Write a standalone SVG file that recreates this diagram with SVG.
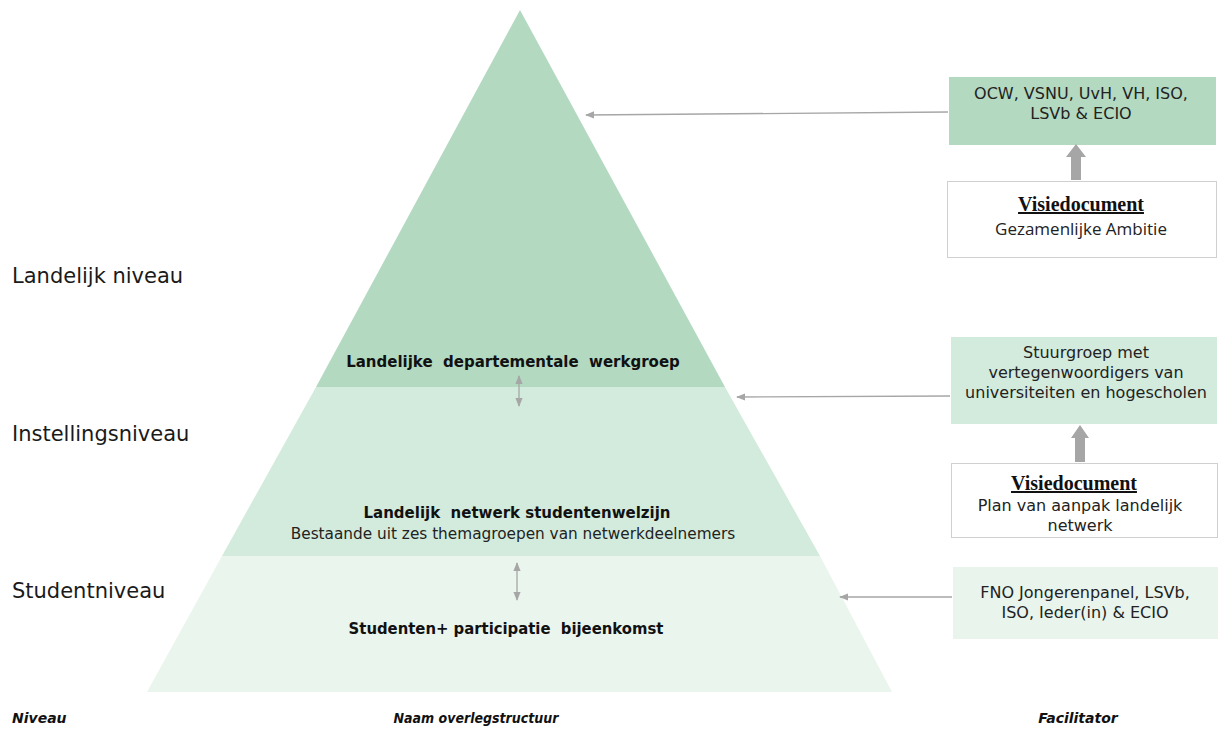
<svg xmlns="http://www.w3.org/2000/svg" width="1218" height="733" viewBox="0 0 1218 733">
<defs>
<style>
.lvl{font-family:"DejaVu Sans",Verdana,sans-serif;font-size:21px;fill:#1a1a1a}
.hdr{font-family:"DejaVu Sans",Verdana,sans-serif;font-size:14px;font-weight:bold;font-style:italic;fill:#111}
.pb{font-family:"DejaVu Sans",Verdana,sans-serif;font-size:15px;font-weight:bold;fill:#111;text-anchor:middle}
.pr{font-family:"DejaVu Sans",Verdana,sans-serif;font-size:15.3px;fill:#222;text-anchor:middle}
.pc{font-family:"DejaVu Sans",Verdana,sans-serif;font-size:16.5px;font-weight:bold;font-stretch:condensed;fill:#111;text-anchor:middle}
.bt{font-family:"DejaVu Sans",Verdana,sans-serif;font-size:16px;fill:#222;text-anchor:middle}
.ga{font-family:"Open Sans","DejaVu Sans",sans-serif;font-size:17px;fill:#222;text-anchor:middle}
.vd{font-family:"Liberation Serif","Times New Roman",serif;font-size:20px;font-weight:bold;fill:#111;text-anchor:middle;text-decoration:underline}
.conn{stroke:#a6a6a6;stroke-width:1.3;fill:none}
.wbox{fill:#ffffff;stroke:#d0d0d0;stroke-width:1}
</style>
<marker id="ah" viewBox="0 0 10 10" refX="9" refY="5" markerWidth="7" markerHeight="7" orient="auto-start-reverse">
<path d="M0,1 L10,5 L0,9 z" fill="#a6a6a6"/>
</marker>
</defs>
<rect width="1218" height="733" fill="#ffffff"/>

<g id="pyramid-top">
<polygon points="520,10 725,387 316,387" fill="#b3d9c1"/>
<text class="pb" x="513" y="367" xml:space="preserve">Landelijke  departementale  werkgroep</text>
</g>
<g id="pyramid-middle">
<polygon points="316,387 725,387 820,556 222,556" fill="#d3ebdc"/>
<text class="pb" x="517" y="518" font-size="15.5" xml:space="preserve">Landelijk  netwerk studentenwelzijn</text>
<text class="pr" x="513" y="539">Bestaande uit zes themagroepen van netwerkdeelnemers</text>
</g>
<g id="pyramid-bottom">
<polygon points="222,556 820,556 892,692 147,692" fill="#eaf5ee"/>
<text class="pc" x="506" y="634" xml:space="preserve">Studenten+ participatie  bijeenkomst</text>
</g>

<g id="level-labels">
<text class="lvl" x="12" y="283">Landelijk niveau</text>
<text class="lvl" x="12" y="441">Instellingsniveau</text>
<text class="lvl" x="12" y="598">Studentniveau</text>
</g>

<g id="column-headers">
<text class="hdr" x="12" y="723">Niveau</text>
<text class="hdr" x="476" y="723" text-anchor="middle" font-stretch="condensed" font-size="15">Naam overlegstructuur</text>
<text class="hdr" x="1078" y="723" text-anchor="middle">Facilitator</text>
</g>

<g id="facilitator-ocw">
<rect x="949" y="77" width="267" height="68" fill="#b3d9c1"/>
<text class="bt" x="1081" y="99" font-size="16.5">OCW, VSNU, UvH, VH, ISO,</text>
<text class="bt" x="1081" y="119" font-size="16.5">LSVb &amp; ECIO</text>
</g>
<g id="visie-ambitie">
<rect class="wbox" x="947.5" y="181.5" width="269" height="76"/>
<text class="vd" x="1081" y="211">Visiedocument</text>
<text class="ga" x="1081" y="235">Gezamenlijke Ambitie</text>
</g>
<g id="facilitator-stuurgroep">
<rect x="951" y="337" width="266" height="87" fill="#d3ebdc"/>
<text class="bt" x="1086" y="358">Stuurgroep met</text>
<text class="bt" x="1086" y="378">vertegenwoordigers van</text>
<text class="bt" x="1086" y="398">universiteiten en hogescholen</text>
</g>
<g id="visie-plan">
<rect class="wbox" x="951.5" y="463.5" width="266" height="74"/>
<text class="vd" x="1074" y="490">Visiedocument</text>
<text class="bt" x="1080" y="511" font-size="16.5">Plan van aanpak landelijk</text>
<text class="bt" x="1080" y="531" font-size="16.5">netwerk</text>
</g>
<g id="facilitator-fno">
<rect x="953" y="567" width="265" height="72" fill="#e8f4ec"/>
<text class="bt" x="1085" y="598" font-size="17">FNO Jongerenpanel, LSVb,</text>
<text class="bt" x="1085" y="618" font-size="17">ISO, Ieder(in) &amp; ECIO</text>
</g>

<g id="connectors">
<line class="conn" x1="948" y1="112" x2="586" y2="115" marker-end="url(#ah)"/>
<line class="conn" x1="950" y1="396" x2="737" y2="397" marker-end="url(#ah)"/>
<line class="conn" x1="952" y1="597" x2="840" y2="597" marker-end="url(#ah)"/>
<line class="conn" x1="519" y1="376" x2="519" y2="406" marker-start="url(#ah)" marker-end="url(#ah)"/>
<line class="conn" x1="517" y1="563" x2="517" y2="600" marker-start="url(#ah)" marker-end="url(#ah)"/>
<polygon points="1071,180 1071,157 1066,157 1076,144 1086,157 1081,157 1081,180" fill="#a6a6a6"/>
<polygon points="1075,462 1075,438 1071,438 1080,425 1089,438 1085,438 1085,462" fill="#a6a6a6"/>
</g>
</svg>
